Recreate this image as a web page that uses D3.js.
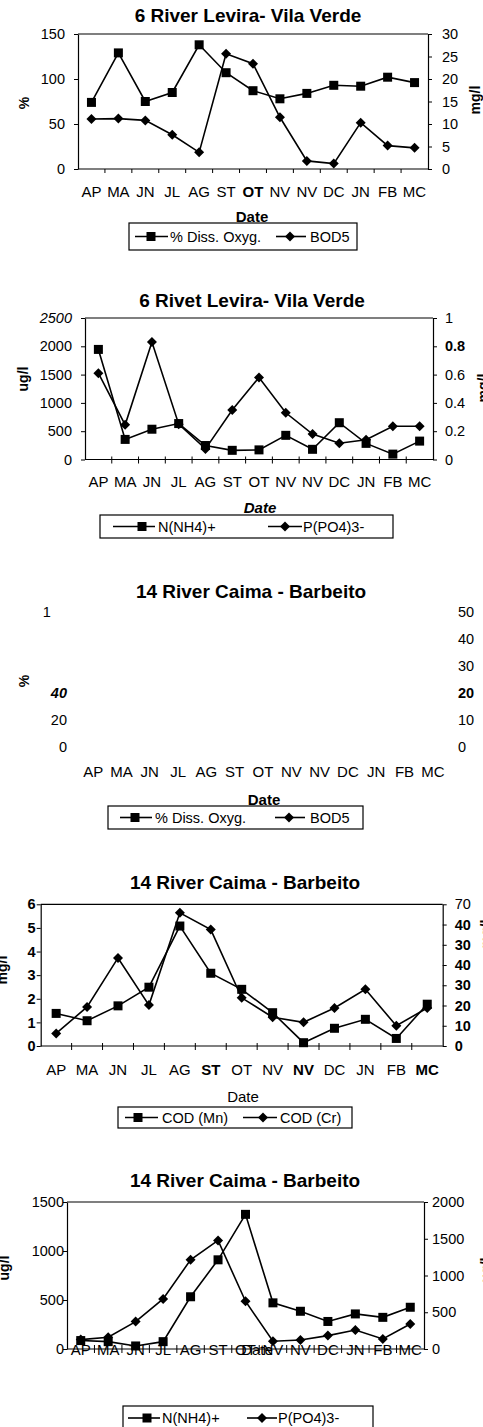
<!DOCTYPE html>
<html>
<head>
  <meta charset="utf-8">
  <title>River Levira / River Caima</title>
  <script src="https://cdn.jsdelivr.net/npm/d3@7"></script>
  <style>
    body { margin: 0; background: #fff; }
    svg { display: block; font-family: "Liberation Sans", Arial, sans-serif; }
  </style>
</head>
<body>
<script>
  // months of the sampling campaign (x axis)
  const months = ["AP", "MA", "JN", "JL", "AG", "ST", "OT", "NV", "NV", "DC", "JN", "FB", "MC"];

  // 6 River Levira - Vila Verde
  const levDO = [74, 129, 75, 85, 138, 107, 87, 78, 84, 93, 92, 102, 96];       // % Diss. Oxyg. (left)
  const levBOD = [11.1, 11.2, 10.8, 7.6, 3.7, 25.6, 23.4, 11.5, 1.8, 1.2, 10.3, 5.2, 4.7]; // BOD5 mg/l (right)
  const levNH4 = [1945, 355, 535, 635, 247, 162, 170, 427, 180, 650, 285, 95, 325]; // ug/l (left)
  const levPO4 = [0.61, 0.245, 0.83, 0.25, 0.075, 0.35, 0.58, 0.33, 0.18, 0.115, 0.14, 0.235, 0.235]; // mg/l (right)

  // 14 River Caima - Barbeito
  const caiDO = [];
  const caiBOD = [];
  const caiMn = [1.38, 1.07, 1.7, 2.49, 5.08, 3.08, 2.4, 1.41, 0.14, 0.75, 1.13, 0.32, 1.77];
  const caiCr = [6.2, 19.3, 43.5, 20.2, 65.8, 57.5, 23.8, 14.2, 11.7, 18.8, 28, 10, 18.8];
  const caiNH4 = [86, 75, 31, 75, 533, 910, 1374, 471, 385, 281, 358, 323, 426];
  const caiPO4 = [128, 159, 373, 681, 1213, 1477, 650, 105, 123, 182, 259, 136, 340];

  // tick labels
  const ticks1L = [0, 50, 100, 150], ticks1R = [0, 5, 10, 15, 20, 25, 30];
  const ticks2L = [0, 500, 1000, 1500, 2000, 2500], ticks2R = [0, 0.2, 0.4, 0.6, 0.8, 1];
  const ticks3L = [0, 20, 40, 100], text3L = ["0", "20", "40", "1"];
  const ticks3R = [0, 10, 20, 30, 40, 50];
  const ticks4L = [0, 1, 2, 3, 4, 5, 6];
  const ticks4R = [0, 10, 20, 30, 40, 50, 60, 70], text4R = ["0", "10", "20", "30", "40", "30", "40", "70"];
  const ticks5L = [0, 500, 1000, 1500], ticks5R = [0, 500, 1000, 1500, 2000];

  const svg = d3.select("body").append("svg")
    .attr("width", 483)
    .attr("height", 1427);

  function drawChart(c) {
    const g = svg.append("g");
    const x = d3.scaleBand().domain(d3.range(months.length)).range([c.l, c.r]);
    const cx = i => x(i) + x.bandwidth() / 2;
    const yL = d3.scaleLinear().domain(c.leftDomain).range([c.b, c.t]);
    const yR = d3.scaleLinear().domain(c.rightDomain).range([c.b, c.t]);

    g.append("text")
      .attr("x", c.titleX).attr("y", c.titleY)
      .attr("text-anchor", "middle")
      .attr("font-weight", "bold")
      .attr("font-size", 19)
      .text(c.title);

    const tk = c.frame ? 4 : 0;

    // left axis
    const gl = g.append("g")
      .attr("transform", `translate(${c.l},0)`)
      .call(d3.axisLeft(yL).tickValues(c.leftTicks).tickSize(tk).tickSizeOuter(0)
        .tickPadding(c.leftGap - tk)
        .tickFormat((d, i) => c.leftText ? c.leftText[i] : d));
    // right axis
    const gr = g.append("g")
      .attr("transform", `translate(${c.r},0)`)
      .call(d3.axisRight(yR).tickValues(c.rightTicks).tickSize(tk).tickSizeOuter(0)
        .tickPadding(c.rightGap - tk)
        .tickFormat((d, i) => c.rightText ? c.rightText[i] : d));

    [gl, gr].forEach(a => {
      a.attr("font-family", null).attr("font-size", null);
      a.selectAll("text").attr("font-size", 14.5).attr("fill", "#000");
      a.selectAll("line").attr("stroke", "#000");
      a.select(".domain").attr("stroke", "#000").attr("stroke-width", 1.2);
      if (!c.frame) a.select(".domain").remove();
    });
    if (c.leftStyle) c.leftStyle(gl.selectAll(".tick text"));
    if (c.rightStyle) c.rightStyle(gr.selectAll(".tick text"));

    if (c.frame) {
      // top and bottom lines of the plot area
      g.append("line").attr("x1", c.l).attr("x2", c.r).attr("y1", c.t).attr("y2", c.t)
        .attr("stroke", "#000").attr("stroke-width", 1.2);
      g.append("line").attr("x1", c.l).attr("x2", c.r).attr("y1", c.b).attr("y2", c.b)
        .attr("stroke", "#000").attr("stroke-width", 1.2);
      // category boundary ticks
      g.selectAll("line.xt")
        .data(d3.range(1, months.length))
        .enter()
        .append("line")
        .attr("class", "xt")
        .attr("x1", d => x(d)).attr("x2", d => x(d))
        .attr("y1", c.b - c.xTickUp).attr("y2", c.b + 4)
        .attr("stroke", "#000");
    }

    // category labels
    g.selectAll("text.xl")
      .data(months)
      .enter()
      .append("text")
      .attr("class", "xl")
      .attr("x", (d, i) => cx(i))
      .attr("y", c.xLabelY)
      .attr("text-anchor", "middle")
      .attr("font-size", 15)
      .attr("font-weight", (d, i) => c.boldX && c.boldX.includes(i) ? "bold" : null)
      .text(d => d);

    g.append("text")
      .attr("x", c.dateX).attr("y", c.dateY)
      .attr("text-anchor", "middle")
      .attr("font-size", 15)
      .attr("font-weight", c.dateBold ? "bold" : null)
      .attr("font-style", c.dateItalic ? "italic" : null)
      .text("Date");

    // axis titles
    c.axisTitles.forEach(a => {
      g.append("text")
        .attr("transform", `translate(${a.x},${a.y}) rotate(-90)`)
        .attr("text-anchor", "middle")
        .attr("dy", "0.35em")
        .attr("font-weight", "bold")
        .attr("font-size", 14)
        .text(a.text);
    });

    // series
    const line = y => d3.line().x((d, i) => cx(i)).y(d => y(d));
    [[c.sq, yL], [c.di, yR]].forEach(([vals, y]) => {
      g.append("path")
        .datum(vals)
        .attr("d", line(y))
        .attr("fill", "none")
        .attr("stroke", "#000")
        .attr("stroke-width", 1.6);
    });
    g.selectAll("rect.sq")
      .data(c.sq)
      .enter()
      .append("rect")
      .attr("class", "sq")
      .attr("x", (d, i) => cx(i) - 4.5)
      .attr("y", d => yL(d) - 4.5)
      .attr("width", 9).attr("height", 9)
      .attr("fill", "#000");
    g.selectAll("path.di")
      .data(c.di)
      .enter()
      .append("path")
      .attr("class", "di")
      .attr("d", (d, i) => {
        const px = cx(i), py = yR(d);
        return `M${px},${py - 5}L${px + 5},${py}L${px},${py + 5}L${px - 5},${py}Z`;
      })
      .attr("fill", "#000");

    // legend
    const L = c.legend;
    g.append("rect")
      .attr("x", L.x).attr("y", L.y).attr("width", L.w).attr("height", L.h)
      .attr("fill", "#fff").attr("stroke", "#000").attr("stroke-width", 1.2);
    const my = L.y + L.h / 2;
    g.append("line").attr("x1", L.s1[0]).attr("x2", L.s1[1]).attr("y1", my).attr("y2", my)
      .attr("stroke", "#000").attr("stroke-width", 1.6);
    g.append("rect").attr("x", L.s1[2] - 4.5).attr("y", my - 4.5).attr("width", 9).attr("height", 9)
      .attr("fill", "#000");
    g.append("line").attr("x1", L.s2[0]).attr("x2", L.s2[1]).attr("y1", my).attr("y2", my)
      .attr("stroke", "#000").attr("stroke-width", 1.6);
    g.append("path")
      .attr("d", `M${L.s2[2]},${my - 5}L${L.s2[2] + 5},${my}L${L.s2[2]},${my + 5}L${L.s2[2] - 5},${my}Z`)
      .attr("fill", "#000");
    g.append("text").attr("x", L.t1).attr("y", my).attr("dy", "0.35em")
      .attr("font-size", 14.5).text(c.names[0]);
    g.append("text").attr("x", L.t2).attr("y", my).attr("dy", "0.35em")
      .attr("font-size", 14.5).text(c.names[1]);
  }

  drawChart({
    title: "6 River Levira- Vila Verde", titleX: 248, titleY: 21.5,
    l: 78, r: 428, t: 34, b: 169, frame: true, xTickUp: 0,
    leftDomain: [0, 150], leftTicks: ticks1L, leftGap: 13,
    rightDomain: [0, 30], rightTicks: ticks1R, rightGap: 14,
    xLabelY: 196.5, boldX: [6], dateX: 252, dateY: 221.5, dateBold: true,
    axisTitles: [{ x: 24, y: 103, text: "%" }, { x: 475, y: 100, text: "mg/l" }],
    sq: levDO, di: levBOD, names: ["% Diss. Oxyg.", "BOD5"],
    legend: { x: 129, y: 223, w: 228, h: 27, s1: [135, 168, 151], t1: 170, s2: [276, 306, 290], t2: 310 }
  });

  drawChart({
    title: "6 Rivet Levira- Vila Verde", titleX: 252, titleY: 307,
    l: 85, r: 433, t: 318, b: 459.5, frame: true, xTickUp: 3,
    leftDomain: [0, 2500], leftTicks: ticks2L, leftGap: 13,
    leftStyle: s => s.filter(d => d === 2500).attr("font-style", "italic"),
    rightDomain: [0, 1], rightTicks: ticks2R, rightGap: 12,
    rightStyle: s => s.filter(d => d === 0.8).attr("font-weight", "bold"),
    xLabelY: 486.5, dateX: 260, dateY: 513, dateBold: true, dateItalic: true,
    axisTitles: [{ x: 23, y: 379, text: "ug/l" }, { x: 483, y: 388, text: "mg/l" }],
    sq: levNH4, di: levPO4, names: ["N(NH4)+", "P(PO4)3-"],
    legend: { x: 100, y: 515, w: 293, h: 23, s1: [113, 155, 142], t1: 158, s2: [268, 302, 285], t2: 303 }
  });

  drawChart({
    title: "14 River Caima - Barbeito", titleX: 251, titleY: 598,
    l: 79, r: 447, t: 612, b: 747, frame: false, xTickUp: 0,
    leftDomain: [0, 100], leftTicks: ticks3L, leftText: text3L, leftGap: 12,
    leftStyle: s => {
      s.filter(d => d === 40).attr("font-weight", "bold").attr("font-style", "italic");
      // only the first digit of "100" survives in the original
      s.filter(d => d === 100).text("1").append("tspan").attr("fill-opacity", 0).text("00");
    },
    rightDomain: [0, 50], rightTicks: ticks3R, rightGap: 11,
    rightStyle: s => s.filter(d => d === 20).attr("font-weight", "bold"),
    xLabelY: 776.5, dateX: 264, dateY: 805, dateBold: true,
    axisTitles: [{ x: 24, y: 681, text: "%" }],
    sq: caiDO, di: caiBOD, names: ["% Diss. Oxyg.", "BOD5"],
    legend: { x: 108, y: 806, w: 255, h: 23, s1: [120, 152, 135], t1: 155, s2: [275, 305, 289], t2: 310 }
  });

  drawChart({
    title: "14 River Caima - Barbeito", titleX: 245, titleY: 889,
    l: 40.7, r: 442.7, t: 904.3, b: 1046, frame: true, xTickUp: 3,
    leftDomain: [0, 6], leftTicks: ticks4L, leftGap: 5,
    leftStyle: s => s.attr("font-weight", "bold"),
    rightDomain: [0, 70], rightTicks: ticks4R, rightText: text4R, rightGap: 12,
    rightStyle: s => s.attr("font-weight", (d, i) => i < 7 ? "bold" : null),
    xLabelY: 1075, boldX: [5, 8, 12], dateX: 243, dateY: 1101.5,
    axisTitles: [{ x: 2, y: 970, text: "mg/l" }, { x: 486, y: 934, text: "mg/l" }],
    sq: caiMn, di: caiCr, names: ["COD (Mn)", "COD (Cr)"],
    legend: { x: 118, y: 1107, w: 234, h: 21, s1: [125, 158, 138], t1: 162, s2: [243, 277, 263], t2: 280 }
  });

  drawChart({
    title: "14 River Caima - Barbeito", titleX: 245, titleY: 1187,
    l: 67, r: 424, t: 1202, b: 1349, frame: true, xTickUp: 4,
    leftDomain: [0, 1500], leftTicks: ticks5L, leftGap: 3,
    rightDomain: [0, 2000], rightTicks: ticks5R, rightGap: 8,
    xLabelY: 1355, dateX: 257, dateY: 1355,
    axisTitles: [{ x: 4, y: 1268, text: "ug/l" }, { x: 486, y: 1270, text: "ug/l" }],
    sq: caiNH4, di: caiPO4, names: ["N(NH4)+", "P(PO4)3-"],
    legend: { x: 123, y: 1406, w: 250, h: 24, s1: [128, 160, 147], t1: 162, s2: [247, 277, 262], t2: 278 }
  });
</script>
</body>
</html>
